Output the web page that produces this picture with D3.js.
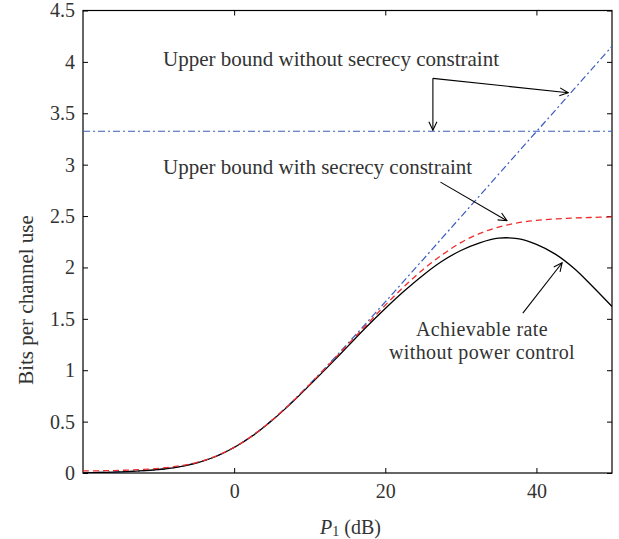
<!DOCTYPE html>
<html>
<head>
<meta charset="utf-8">
<script src="https://cdn.jsdelivr.net/npm/d3@7"></script>
<style>
  body { margin: 0; background: #fff; }
  text { font-family: "Liberation Serif", "DejaVu Serif", serif; fill: #333; }
</style>
</head>
<body>
<script>
// P1 in dB (x samples)
const powerDb = [-20, -17.5, -15, -12.5, -10, -7.5, -5, -2.5, 0, 2.5, 5, 7.5, 10, 12.5, 15,
  17.5, 20, 22.5, 25, 27.5, 30, 32.5, 35, 37.5, 40, 42.5, 45, 47.5, 50];

// upper bound without secrecy constraint (rising dash-dot line)
const boundNoSecrecy = [0.004, 0.006, 0.011, 0.020, 0.034, 0.059, 0.099, 0.160, 0.250, 0.368, 0.514,
  0.682, 0.865, 1.058, 1.257, 1.460, 1.665, 1.871, 2.077, 2.285, 2.492, 2.699, 2.907, 3.114, 3.322,
  3.529, 3.737, 3.944, 4.152];

// flat upper bound without secrecy constraint
const flatDb = [-20, 50];
const flatBound = [3.325, 3.325];

// upper bound with secrecy constraint (red dashed)
const boundSecrecy = [0.020, 0.022, 0.026, 0.033, 0.045, 0.066, 0.102, 0.162, 0.250, 0.368, 0.513,
  0.680, 0.862, 1.052, 1.246, 1.440, 1.633, 1.815, 1.980, 2.122, 2.242, 2.331, 2.393, 2.433, 2.457,
  2.472, 2.481, 2.487, 2.492];

// achievable rate without power control (black solid)
const achievable = [0.000, 0.005, 0.011, 0.020, 0.034, 0.058, 0.097, 0.158, 0.248, 0.365, 0.510,
  0.675, 0.855, 1.040, 1.230, 1.420, 1.600, 1.770, 1.925, 2.060, 2.165, 2.240, 2.285, 2.280, 2.225,
  2.130, 1.990, 1.810, 1.620];

const xTicks = [0, 20, 40];
const yTicks = [0, 0.5, 1, 1.5, 2, 2.5, 3, 3.5, 4, 4.5];

const W = 619, H = 539;
const margin = { top: 10.5, right: 7, bottom: 66, left: 83 };
const w = W - margin.left - margin.right;
const h = H - margin.top - margin.bottom;

const svg = d3.select("body").append("svg")
  .attr("width", W)
  .attr("height", H);

const defs = svg.append("defs");
defs.append("marker")
  .attr("id", "arrow")
  .attr("viewBox", "0 0 10 10")
  .attr("refX", 9.5)
  .attr("refY", 5)
  .attr("markerWidth", 10)
  .attr("markerHeight", 10)
  .attr("markerUnits", "userSpaceOnUse")
  .attr("orient", "auto")
  .append("path")
  .attr("d", "M1,1 L9.5,5 L1,9")
  .attr("fill", "none")
  .attr("stroke", "#000")
  .attr("stroke-width", 1.1);

defs.append("clipPath").attr("id", "clip")
  .append("rect").attr("width", w).attr("height", h);

const g = svg.append("g")
  .attr("transform", "translate(" + margin.left + "," + margin.top + ")");

const x = d3.scaleLinear().domain([-20, 50]).range([0, w]);
const y = d3.scaleLinear().domain([0, 4.5]).range([h, 0]);

// axes: ticks drawn inward like matlab
const tickLen = 5;
function styleAxis(sel) {
  sel.select(".domain").remove();
  sel.selectAll(".tick line").attr("stroke", "#000");
  sel.selectAll(".tick text")
    .style("font-size", "20px")
    .attr("fill", "#333");
}

g.append("g")
  .attr("transform", "translate(0," + h + ")")
  .call(d3.axisBottom(x).tickValues(xTicks).tickSize(-tickLen).tickPadding(11).tickFormat(d3.format("d")))
  .call(styleAxis);

g.append("g")
  .call(d3.axisTop(x).tickValues(xTicks).tickSize(-tickLen).tickFormat(""))
  .call(styleAxis);

g.append("g")
  .call(d3.axisLeft(y).tickValues(yTicks).tickSize(-tickLen).tickPadding(8).tickFormat(d => d))
  .call(styleAxis);

g.append("g")
  .attr("transform", "translate(" + w + ",0)")
  .call(d3.axisRight(y).tickValues(yTicks).tickSize(-tickLen).tickFormat(""))
  .call(styleAxis);

g.append("rect")
  .attr("width", w)
  .attr("height", h)
  .attr("fill", "none")
  .attr("stroke", "#000")
  .attr("stroke-width", 1.2);

// curves
const plot = g.append("g").attr("clip-path", "url(#clip)");

function drawLine(xs, ys, color, dash, width) {
  const pts = xs.map((d, i) => [d, ys[i]]);
  plot.append("path")
    .datum(pts)
    .attr("fill", "none")
    .attr("stroke", color)
    .attr("stroke-width", width)
    .attr("stroke-dasharray", dash)
    .attr("d", d3.line().x(d => x(d[0])).y(d => y(d[1])).curve(d3.curveCatmullRom.alpha(0.5)));
}

drawLine(flatDb, flatBound, "#3a5cc0", "7,3,2,3", 1.2);
drawLine(powerDb, boundNoSecrecy, "#3a5cc0", "7,3,2,3", 1.2);
drawLine(powerDb, achievable, "#000", null, 1.3);
drawLine(powerDb, boundSecrecy, "#ee2b2b", "6,4", 1.3);

// annotations (data coordinates)
const labelText = ["Upper bound without secrecy constraint", "Upper bound with secrecy constraint"];
const labelPos = [[-9.4, 4.03], [-9.4, 2.98]];

labelText.forEach((t, i) => {
  g.append("text")
    .attr("x", x(labelPos[i][0]))
    .attr("y", y(labelPos[i][1]))
    .attr("dominant-baseline", "central")
    .style("font-size", "21px")
    .text(t);
});

const rateLines = ["Achievable rate", "without power control"];
const ratePos = [[32.8, 1.40], [32.8, 1.18]];
rateLines.forEach((t, i) => {
  g.append("text")
    .attr("x", x(ratePos[i][0]))
    .attr("y", y(ratePos[i][1]))
    .attr("text-anchor", "middle")
    .attr("dominant-baseline", "central")
    .style("font-size", "20px")
    .style("letter-spacing", "0.4px")
    .text(t);
});

// arrows: [from, to]
const arrows = [
  [[26.3, 3.84], [26.3, 3.335]],
  [[26.3, 3.84], [44.2, 3.70]],
  [[27.3, 2.83], [36.1, 2.455]],
  [[38.2, 1.556], [43.4, 2.046]]
];
arrows.forEach(a => {
  g.append("line")
    .attr("x1", x(a[0][0])).attr("y1", y(a[0][1]))
    .attr("x2", x(a[1][0])).attr("y2", y(a[1][1]))
    .attr("stroke", "#000")
    .attr("stroke-width", 1.1)
    .attr("marker-end", "url(#arrow)");
});

// axis labels
const xl = svg.append("text")
  .attr("x", margin.left + w / 2 + 3)
  .attr("y", 527)
  .attr("text-anchor", "middle")
  .attr("dominant-baseline", "central")
  .style("font-size", "20px");
xl.append("tspan").style("font-style", "italic").text("P");
xl.append("tspan").attr("dy", 4).style("font-size", "14px").text("1");
xl.append("tspan").attr("dy", -4).text(" (dB)");

svg.append("text")
  .attr("transform", "translate(26,300) rotate(-90)")
  .attr("text-anchor", "middle")
  .attr("dominant-baseline", "central")
  .style("font-size", "21px")
  .text("Bits per channel use");
</script>
</body>
</html>
